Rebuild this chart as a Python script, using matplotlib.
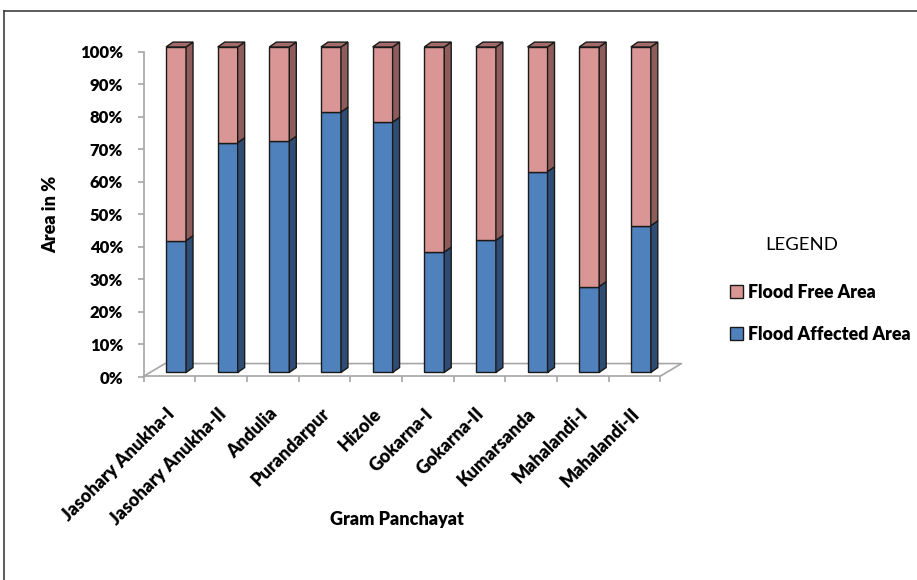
import matplotlib
matplotlib.use('Agg')
import matplotlib.pyplot as plt
from matplotlib.patches import Polygon
from matplotlib.lines import Line2D

panchayats = ['Jasohary Anukha-I', 'Jasohary Anukha-II', 'Andulia', 'Purandarpur', 'Hizole',
              'Gokarna-I', 'Gokarna-II', 'Kumarsanda', 'Mahalandi-I', 'Mahalandi-II']
affected = [40.5, 70.6, 71.1, 80.0, 76.9, 37.0, 40.6, 61.7, 26.4, 45.1]
free = [59.5, 29.4, 28.9, 20.0, 23.1, 63.0, 59.4, 38.3, 73.6, 54.9]
ytick_vals = [0, 10, 20, 30, 40, 50, 60, 70, 80, 90, 100]

plt.rcParams['font.family'] = ['Lato', 'DejaVu Sans']
bw = 'heavy'

blue, blue_side = '#4F81BD', '#2F4D74'
pink, pink_side, pink_top = '#D99694', '#8E5D5B', '#A36B69'
edge = '#1a1a1a'
gray = '#A6A6A6'

fig = plt.figure(figsize=(9.17, 5.8), dpi=100)
ax = fig.add_axes([0.1565, 0.35, 0.5634, 0.569])
x0, x1 = -0.63, 9.37
ax.set_xlim(x0, x1)
ax.set_ylim(0, 100)

w = 0.387
dx, dy = 0.135, 1.5
n = len(panchayats)
xs = list(range(n))

b_aff = ax.bar(xs, affected, w, color=blue, edgecolor=edge, lw=1.0, zorder=3,
               label='Flood Affected Area', clip_on=False)
b_free = ax.bar(xs, free, w, bottom=affected, color=pink, edgecolor=edge, lw=1.0,
                zorder=3, label='Flood Free Area', clip_on=False)

# side and top faces for the 3d look
for i in xs:
    a, f = affected[i], free[i]
    l, r = i - w / 2, i + w / 2
    ax.add_patch(Polygon([(r, 0), (r + dx, dy), (r + dx, a + dy), (r, a)],
                         fc=blue_side, ec=edge, lw=1.0, zorder=3, clip_on=False))
    ax.add_patch(Polygon([(r, a), (r + dx, a + dy), (r + dx, a + f + dy), (r, a + f)],
                         fc=pink_side, ec=edge, lw=1.0, zorder=3, clip_on=False))
    ax.add_patch(Polygon([(l, a + f), (r, a + f), (r + dx, a + f + dy), (l + dx, a + f + dy)],
                         fc=pink_top, ec=edge, lw=1.0, zorder=3, clip_on=False))

# floor
yf, yb, dd = -1.21, 2.73, 0.417
ax.plot([x1, x1 + dd, x0 + dd, x0], [yf, yb, yb, yf], color=gray, lw=1.2,
        clip_on=False, zorder=1)

for s in ['top', 'right']:
    ax.spines[s].set_visible(False)
ax.spines['left'].set_color(gray)
ax.spines['left'].set_linewidth(1.2)
ax.spines['left'].set_bounds(-1.4, 98.6)
ax.spines['bottom'].set_color(gray)
ax.spines['bottom'].set_linewidth(1.2)
ax.spines['bottom'].set_position(('data', yf))
ax.spines['bottom'].set_bounds(x0, x1)

ax.set_yticks([v - 1.4 for v in ytick_vals])
ax.set_yticklabels([f'{v}%' for v in ytick_vals], fontsize=12, fontweight=bw)
ax.tick_params(axis='y', color=gray, length=4.3, width=1.2, pad=10.4)

bounds = [i - 0.626 for i in range(n + 1)]
ax.set_xticks(bounds)
ax.set_xticklabels([])
ax.tick_params(axis='x', color=gray, length=4.3, width=1.2)

for i, name in enumerate(panchayats):
    ax.text(i - 0.2, -10.0, name, rotation=45, ha='right', va='top',
            rotation_mode='anchor', fontsize=13, fontweight=bw, clip_on=False)

fig.text(51 / 917, 1 - 214 / 580, 'Area in %', rotation=90, ha='center', va='center',
         fontsize=13, fontweight=bw)
fig.text(397 / 917, 1 - 520 / 580, 'Gram Panchayat', ha='center', va='center',
         fontsize=13, fontweight=bw)

fig.text(802 / 917, 1 - 245 / 580, 'LEGEND', ha='center', va='center', fontsize=13.3)
fig.legend([b_free, b_aff], ['Flood Free Area', 'Flood Affected Area'],
           loc='upper left', bbox_to_anchor=(721 / 917, 1 - 275 / 580),
           frameon=False, borderpad=0, handlelength=0.72, handleheight=0.72,
           handletextpad=0.3, labelspacing=1.4,
           prop={'size': 12.8, 'weight': bw})

# chart border
fig.add_artist(Line2D([4 / 917, 1], [1 - 11 / 580, 1 - 11 / 580], color='#404040', lw=1.2))
fig.add_artist(Line2D([4 / 917, 4 / 917], [0, 1 - 11 / 580], color='#404040', lw=1.2))

fig.savefig('out.png', dpi=100)
